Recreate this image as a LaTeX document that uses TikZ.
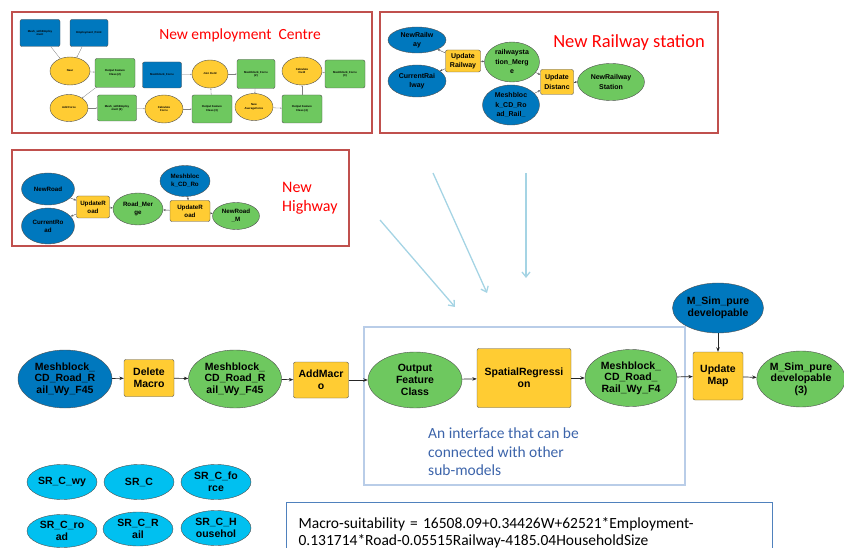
\documentclass[tikz,border=0pt]{standalone}
\usepackage{fontspec}
\setmainfont{Carlito}
\newfontfamily\mbfont{Liberation Sans}
\usetikzlibrary{shapes.geometric,arrows.meta}
\definecolor{toolyellow}{RGB}{255,204,51}
\definecolor{outgreen}{RGB}{110,200,95}
\definecolor{datablue}{RGB}{0,120,190}
\definecolor{srcyan}{RGB}{0,192,240}
\definecolor{edgegray}{RGB}{80,80,80}
\definecolor{framered}{RGB}{192,80,77}
\definecolor{hintblue}{RGB}{165,212,228}
\definecolor{ifaceblue}{RGB}{185,205,232}
\definecolor{ifacetext}{RGB}{60,100,170}
\definecolor{eqblue}{RGB}{79,129,189}
\tikzset{
  tool/.style={rectangle,rounded corners=2pt,draw=edgegray,fill=toolyellow,align=center,inner sep=0pt},
  toolell/.style={ellipse,draw=edgegray,fill=toolyellow,align=center,inner sep=0pt},
  indata/.style={ellipse,draw=edgegray,fill=datablue,align=center,inner sep=0pt},
  inrect/.style={rectangle,rounded corners=2pt,draw=edgegray,fill=datablue,align=center,inner sep=0pt},
  outdata/.style={ellipse,draw=edgegray,fill=outgreen,align=center,inner sep=0pt},
  outrect/.style={rectangle,rounded corners=2pt,draw=edgegray,fill=outgreen,align=center,inner sep=0pt},
  srvar/.style={ellipse,draw=edgegray,fill=srcyan,align=center,inner sep=0pt,minimum width=70pt},
  mtxt/.style={font=\mbfont\bfseries\fontsize{10.5}{11.7}\selectfont},
  rtxt/.style={font=\mbfont\bfseries\fontsize{7}{9.5}\selectfont},
  htxt/.style={font=\mbfont\bfseries\fontsize{6.2}{7.8}\selectfont},
  etxt/.style={font=\mbfont\bfseries\fontsize{2.8}{3.4}\selectfont},
  redframe/.style={draw=framered,line width=1.8pt},
  boxtitle/.style={text=red,inner sep=0pt},
  flow/.style={draw=black!85,line width=0.7pt,-{Stealth[length=4.5pt,width=3.5pt]}},
  smallflow/.style={draw=edgegray,line width=0.4pt,-{Stealth[length=2.5pt,width=2pt]}},
  tinyflow/.style={draw=gray,line width=0.3pt,-{Stealth[length=1.5pt,width=1.2pt]}},
  hint/.style={draw=hintblue,line width=1.3pt,-{Straight Barb[length=5pt,width=8pt]}}
}
\begin{document}
\begin{tikzpicture}[x=1pt,y=-1pt]
\useasboundingbox (0,0) rectangle (844,548);

\node[redframe,minimum width=360pt,minimum height=121pt] (empbox) at (192,72.5) {};
\node[redframe,minimum width=338pt,minimum height=121pt] (railbox) at (549,72.5) {};
\node[redframe,minimum width=337pt,minimum height=96pt] (roadbox) at (180.5,198) {};
\node[boxtitle,font=\fontsize{15.5}{18}\selectfont] (emptitle) at (240,35) {New employment\ \ Centre};
\node[boxtitle,font=\fontsize{18.5}{22}\selectfont] (railtitle) at (629,43) {New Railway station};
\node[boxtitle,font=\fontsize{16}{19.5}\selectfont,align=left,anchor=west] (roadtitle) at (282,198) {New\\Highway};

\node[inrect,etxt,minimum width=40pt,minimum height=27pt] (meshemp) at (40,33) {Mesh\_withEmploy\\ment};
\node[inrect,etxt,minimum width=38pt,minimum height=27pt] (emppt) at (89,33) {Employment\_Point};
\node[toolell,etxt,minimum width=40pt,minimum height=28pt] (near) at (70,71) {Near};
\node[outrect,etxt,minimum width=40pt,minimum height=29pt] (ofc2) at (115,73) {Output Feature\\Class (2)};
\node[toolell,etxt,minimum width=38pt,minimum height=27pt] (addforce) at (69,108) {Add Force};
\node[outrect,etxt,minimum width=39pt,minimum height=26pt] (meshemp2) at (117,108) {Mesh\_withEmploy\\ment (2)};
\node[toolell,etxt,minimum width=38pt,minimum height=28pt] (calcforce) at (164,109) {Calculate\\Force};
\node[outrect,etxt,minimum width=40pt,minimum height=28pt] (ofc3) at (212,109) {Output Feature\\Class (3)};
\node[inrect,etxt,minimum width=39pt,minimum height=26pt] (mbforce) at (162,75) {Meshblock\_Force};
\node[toolell,etxt,minimum width=36pt,minimum height=28pt] (joinfld) at (210,74) {Join Field};
\node[outrect,etxt,minimum width=38pt,minimum height=29pt] (mbforce2) at (256,74) {Meshblock\_Force\\(2)};
\node[toolell,etxt,minimum width=38pt,minimum height=27pt] (avgforce) at (254,107) {New\\AverageForce};
\node[outrect,etxt,minimum width=40pt,minimum height=28pt] (ofc4) at (302,109) {Output Feature\\Class (4)};
\node[toolell,etxt,minimum width=40pt,minimum height=28pt] (calcfld) at (302,71) {Calculate\\Field};
\node[outrect,etxt,minimum width=40pt,minimum height=28pt] (mbforce3) at (345,74) {Meshblock\_Force\\(3)};
\draw[tinyflow] (meshemp) -- (near);
\draw[tinyflow] (emppt) -- (near);
\draw[tinyflow] (near) -- (ofc2);
\draw[tinyflow] (ofc2) -- (addforce);
\draw[tinyflow] (addforce) -- (meshemp2);
\draw[tinyflow] (meshemp2) -- (calcforce);
\draw[tinyflow] (calcforce) -- (ofc3);
\draw[tinyflow] (ofc3) -- (joinfld);
\draw[tinyflow] (mbforce) -- (joinfld);
\draw[tinyflow] (joinfld) -- (mbforce2);
\draw[tinyflow] (mbforce2) -- (avgforce);
\draw[tinyflow] (avgforce) -- (ofc4);
\draw[tinyflow] (ofc4) -- (calcfld);
\draw[tinyflow] (calcfld) -- (mbforce3);

\node[indata,rtxt,minimum width=58pt,minimum height=26pt] (newrail) at (417,40) {NewRailw\\ay};
\node[indata,rtxt,minimum width=58pt,minimum height=32pt] (currail) at (417,81) {CurrentRai\\lway};
\node[tool,rtxt,minimum width=35pt,minimum height=22pt] (uprail) at (463,61) {Update\\Railway};
\node[outdata,rtxt,minimum width=55pt,minimum height=40pt] (railmerge) at (512,62) {railwaysta\\tion\_Merg\\e};
\node[tool,rtxt,minimum width=33pt,minimum height=25pt] (updist) at (557,82) {Update\\Distanc};
\node[outdata,rtxt,minimum width=67pt,minimum height=37pt] (newst) at (611,82) {NewRailway\\Station};
\node[indata,rtxt,minimum width=57pt,minimum height=40pt] (mbrail) at (511,105) {Meshbloc\\k\_CD\_Ro\\ad\_Rail\_};
\draw[smallflow] (uprail) -- (newrail);
\draw[smallflow] (uprail) -- (currail);
\draw[smallflow] (uprail) -- (railmerge);
\draw[smallflow] (railmerge) -- (updist);
\draw[smallflow] (mbrail) -- (updist);
\draw[smallflow] (updist) -- (newst);

\node[indata,htxt,minimum width=53pt,minimum height=32pt] (newroad) at (48,189) {NewRoad};
\node[indata,htxt,minimum width=53pt,minimum height=36pt] (curroad) at (48,226) {CurrentRo\\ad};
\node[tool,htxt,minimum width=33pt,minimum height=22pt] (uproad) at (93,207) {UpdateR\\oad};
\node[outdata,htxt,minimum width=50pt,minimum height=32pt] (roadmerge) at (138,209) {Road\_Mer\\ge};
\node[indata,htxt,minimum width=50pt,minimum height=31pt] (mbroad) at (185,181) {Meshbloc\\k\_CD\_Ro};
\node[tool,htxt,minimum width=40pt,minimum height=21pt] (uproadb) at (190,211) {UpdateR\\oad};
\node[outdata,htxt,minimum width=47pt,minimum height=27pt] (newroadm) at (236,216) {NewRoad\\\_M};
\draw[smallflow] (newroad) -- (uproad);
\draw[smallflow] (uproad) -- (curroad);
\draw[smallflow] (uproad) -- (roadmerge);
\draw[smallflow] (uproadb) -- (roadmerge);
\draw[smallflow] (mbroad) -- (uproadb);
\draw[smallflow] (uproadb) -- (newroadm);

\coordinate (hinta) at (380,220);
\coordinate (hintb) at (455,307);
\coordinate (hintc) at (433,173);
\coordinate (hintd) at (487,293);
\coordinate (hinte) at (526,173);
\coordinate (hintf) at (526,278);
\draw[hint] (hinta) -- (hintb);
\draw[hint] (hintc) -- (hintd);
\draw[hint] (hinte) -- (hintf);

\node[draw=ifaceblue,line width=1.5pt,minimum width=321pt,minimum height=158pt] (iface) at (524.5,406) {};
\node[text=ifacetext,font=\fontsize{15.5}{18.5}\selectfont,align=left,anchor=north west,inner sep=0pt] (ifacenote) at (428,428) {An interface that can be\\connected with other\\sub-models};

\node[indata,mtxt,minimum width=94pt,minimum height=58pt] (mbin) at (65,379) {Meshblock\_\\CD\_Road\_R\\ail\_Wy\_F45};
\node[tool,mtxt,minimum width=50pt,minimum height=37pt] (delmac) at (149,378) {Delete\\Macro};
\node[outdata,mtxt,minimum width=93pt,minimum height=58pt] (mbdel) at (235,379) {Meshblock\_\\CD\_Road\_R\\ail\_Wy\_F45};
\node[tool,mtxt,minimum width=55pt,minimum height=36pt] (addmac) at (321,380) {AddMacr\\o};
\node[outdata,mtxt,minimum width=94pt,minimum height=56pt] (ofc) at (415,380) {Output\\Feature\\Class};
\node[tool,mtxt,minimum width=94pt,minimum height=59pt] (sreg) at (524,378) {SpatialRegressi\\on};
\node[outdata,mtxt,minimum width=92pt,minimum height=57pt] (mbfour) at (631,378) {Meshblock\_\\CD\_Road\_\\Rail\_Wy\_F4};
\node[tool,mtxt,minimum width=50pt,minimum height=48pt] (upmap) at (718,376) {Update\\Map};
\node[indata,mtxt,minimum width=91pt,minimum height=50pt] (msim) at (718,308) {M\_Sim\_pure\\developable};
\node[outdata,mtxt,minimum width=85pt,minimum height=56pt] (msimout) at (801,379) {M\_Sim\_pure\\developable\\(3)};
\draw[flow] (mbin) -- (delmac);
\draw[flow] (delmac) -- (mbdel);
\draw[flow] (mbdel) -- (addmac);
\draw[flow] (addmac) -- (ofc);
\draw[flow] (ofc) -- (sreg);
\draw[flow] (sreg) -- (mbfour);
\draw[flow] (mbfour) -- (upmap);
\draw[flow] (msim) -- (upmap);
\draw[flow] (upmap) -- (msimout);

\node[srvar,mtxt,minimum height=35pt] (srwy) at (62,482) {SR\_C\_wy};
\node[srvar,mtxt,minimum height=35pt] (src) at (139,482) {SR\_C};
\node[srvar,mtxt,minimum height=35pt] (srforce) at (216,482) {SR\_C\_fo\\rce};
\node[srvar,mtxt,minimum height=33pt] (srroad) at (62,531) {SR\_C\_ro\\ad};
\node[srvar,mtxt,minimum height=34pt] (srrail) at (138,529) {SR\_C\_R\\ail};
\node[srvar,mtxt,minimum height=35pt] (srhouse) at (216,528) {SR\_C\_H\\ousehol};

\node[draw=eqblue,line width=1.2pt,anchor=north west,minimum width=486pt,minimum height=60pt,text width=462pt,inner xsep=12pt,inner ysep=5pt,align=left,font=\fontsize{15.5}{17.5}\selectfont] (eqbox) at (286,502) {Macro-suitability = 16508.09+0.34426W+62521*Employment-\\0.131714*Road-0.05515Railway-4185.04HouseholdSize};
\end{tikzpicture}
\end{document}
